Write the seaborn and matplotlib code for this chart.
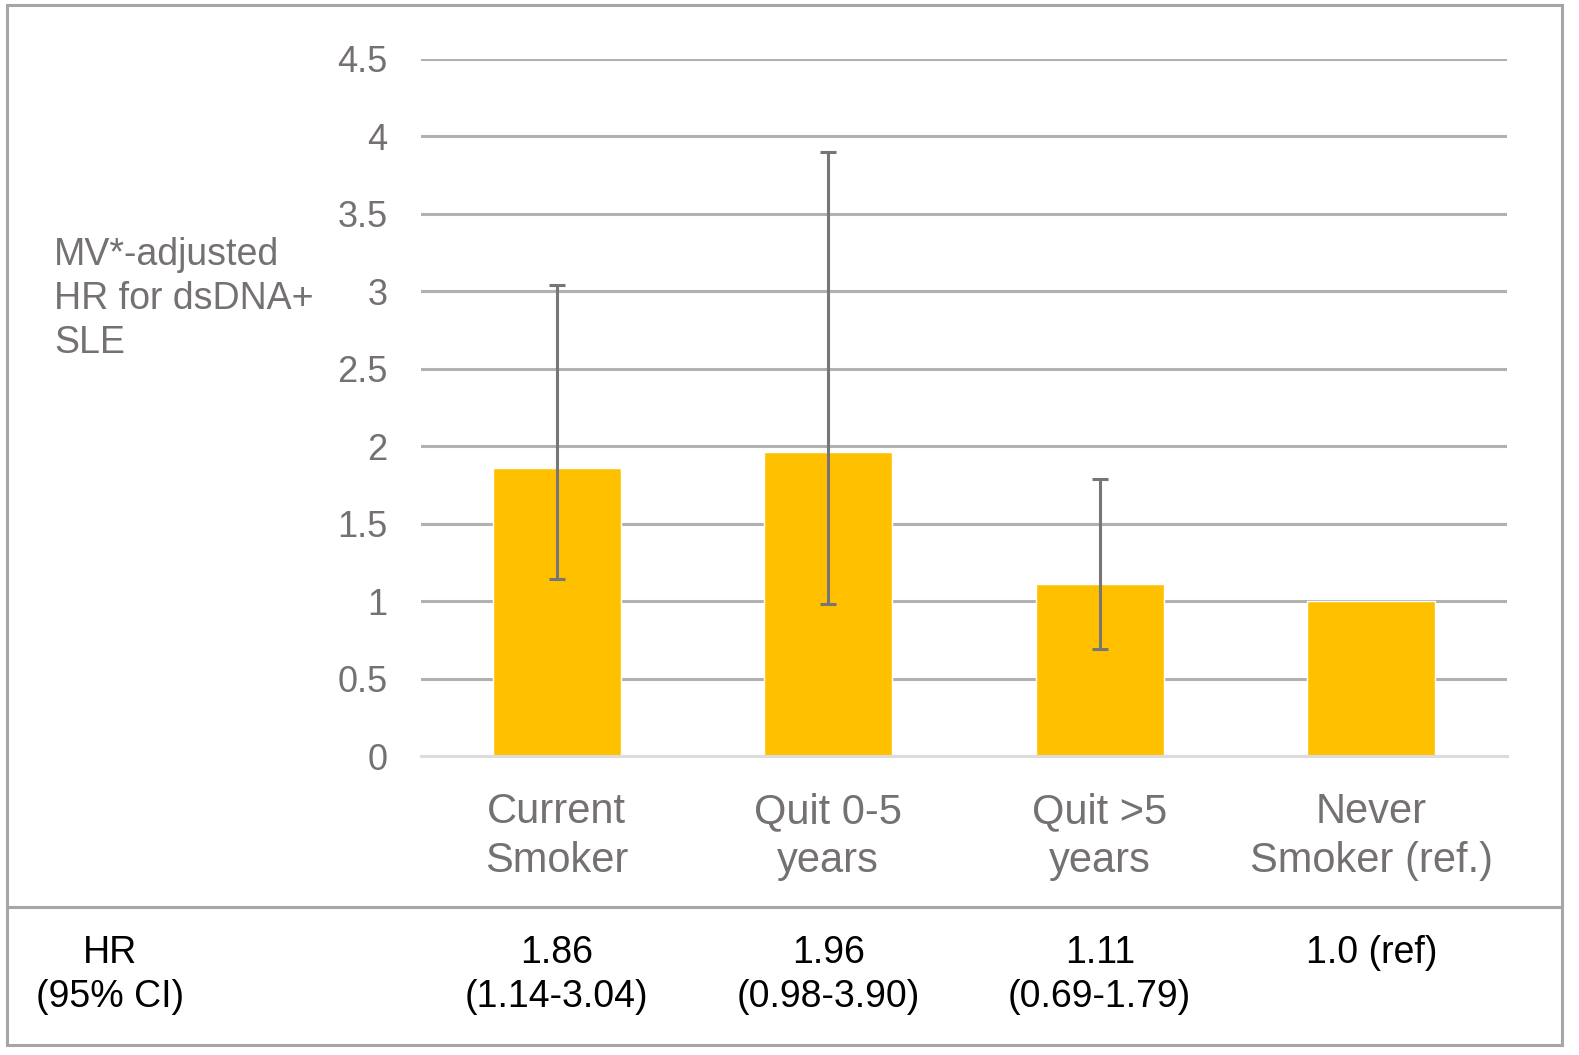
import numpy as np
import pandas as pd
import seaborn as sns
import matplotlib.pyplot as plt
from matplotlib.patches import Rectangle
from matplotlib.lines import Line2D
import matplotlib.transforms as mtransforms

# data
groups = ['Current\nSmoker', 'Quit 0-5\nyears', 'Quit >5\nyears', 'Never\nSmoker (ref.)']
hr = [1.86, 1.96, 1.11, 1.0]
ci_low = [1.14, 0.98, 0.69, np.nan]
ci_high = [3.04, 3.90, 1.79, np.nan]
table_text = ['1.86\n(1.14-3.04)', '1.96\n(0.98-3.90)', '1.11\n(0.69-1.79)', '1.0 (ref)']
yticks = [0, 0.5, 1, 1.5, 2, 2.5, 3, 3.5, 4, 4.5]

df = pd.DataFrame({'group': groups, 'hr': hr})

sns.set_style("white")
plt.rcParams['font.family'] = ['Liberation Sans', 'DejaVu Sans']

grey_txt = '#767171'
fig = plt.figure(figsize=(15.79, 10.55), dpi=100)
ax = fig.add_axes([421/1579, 1 - 756/1055, (1507-421)/1579, (756-59)/1055])

sns.barplot(data=df, x='group', y='hr', color='#FFC000', saturation=1, width=0.47, ax=ax, zorder=2)

x = np.arange(len(groups))
yerr = np.array([np.array(hr) - np.array(ci_low), np.array(ci_high) - np.array(hr)])
ax.errorbar(x[:3], hr[:3], yerr=yerr[:, :3], fmt='none', ecolor='#767676',
            elinewidth=2.2, capsize=6, capthick=2.2, zorder=3)

ax.set_ylim(0, 4.5)
ax.set_xlim(-0.5, 3.5)
ax.set_yticks(yticks)
ax.set_yticklabels([f'{t:g}' for t in yticks])
ax.yaxis.grid(True, color='#b3b0b0', linewidth=2.2, zorder=0)
ax.set_axisbelow(True)
for s in ['top', 'right', 'left']:
    ax.spines[s].set_visible(False)
ax.spines['bottom'].set_color('#dcdcdc')
ax.spines['bottom'].set_linewidth(2.2)
ax.set_xlabel('')
ax.set_ylabel('')
ax.tick_params(axis='y', length=0, pad=24, labelsize=26, labelcolor=grey_txt)
ax.tick_params(axis='x', length=0, pad=26, labelsize=30, labelcolor=grey_txt)
for lbl in ax.get_xticklabels():
    lbl.set_linespacing(1.28)

fig.text(54/1579, 1 - 237/1055, 'MV*-adjusted\nHR for dsDNA+\nSLE', ha='left', va='top',
         fontsize=27, color=grey_txt, linespacing=1.28)

# table row under the chart
trans = mtransforms.blended_transform_factory(ax.transData, fig.transFigure)
for xi, t in zip(x, table_text):
    ax.text(xi, 1 - 935/1055, t, transform=trans, ha='center', va='top',
            fontsize=27, color='black', linespacing=1.3, clip_on=False)
fig.text(110/1579, 1 - 935/1055, 'HR\n(95% CI)', ha='center', va='top', fontsize=27,
         color='black', linespacing=1.3)

# border and separator
fig.add_artist(Rectangle((7/1579, 1 - 1045/1055), (1562-7)/1579, (1045-5)/1055,
                         transform=fig.transFigure, fill=False, edgecolor='#a6a6a6', linewidth=2.2))
fig.add_artist(Line2D([7/1579, 1562/1579], [1 - 907/1055, 1 - 907/1055],
                      transform=fig.transFigure, color='#a6a6a6', linewidth=2.2))

fig.savefig('out.png', dpi=100)
